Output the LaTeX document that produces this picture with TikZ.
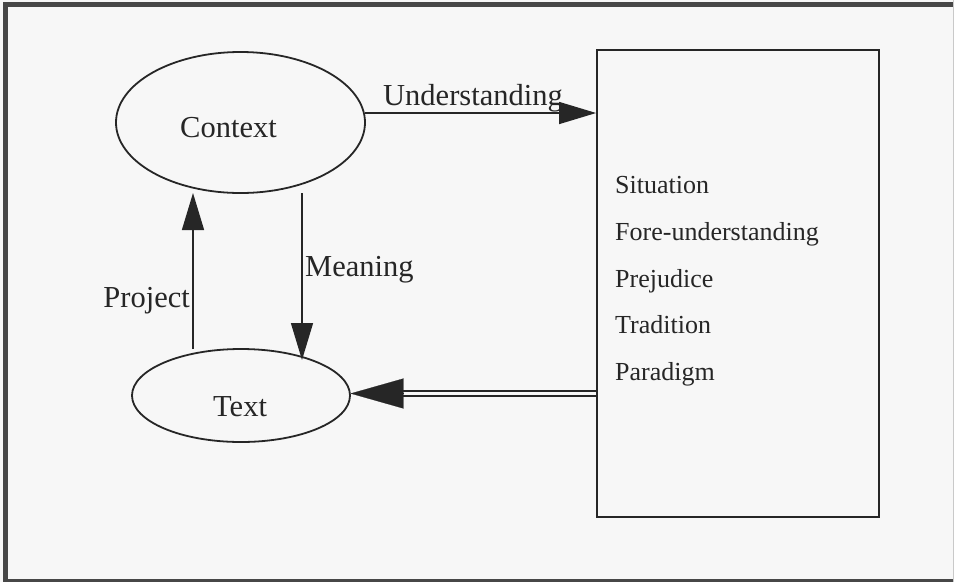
\documentclass[tikz,border=0pt]{standalone}
\usepackage{fontspec}
\setmainfont{Liberation Serif}
\usetikzlibrary{arrows.meta,shapes.geometric}
\definecolor{ink}{HTML}{262626}
\definecolor{bg}{HTML}{F7F7F7}
\begin{document}
\begin{tikzpicture}[x=1pt,y=-1pt,
  lbl/.style={font=\fontsize{30.5}{36}\selectfont, text=ink, inner sep=0, anchor=base west},
  item/.style={font=\fontsize{26}{30}\selectfont, text=ink, inner sep=0, anchor=base west},
  oval/.style={ellipse, draw=ink, line width=1.8pt, inner sep=0},
  arr/.style={draw=ink, line width=1.4pt, -{Triangle[length=37pt,width=22pt]}},
  frame/.style={draw=ink!85, line width=5pt}
]
\useasboundingbox (0,0) rectangle (954,582);
\fill[bg] (0,0) rectangle (954,582);
% outer frame
\draw[frame] (954,4.5) -- (5.8,4.5) -- (5.8,582);
\draw[draw=ink!85, line width=3pt] (3,580.5) -- (954,580.5);
\draw[draw=ink!25, line width=1pt] (953.5,0) -- (953.5,582);

% nodes
\node[oval, minimum width=249pt, minimum height=141pt] (ctx) at (240.5,122.5) {};
\node[lbl] (ctxlbl) at (180,137) {Context};
\node[oval, minimum width=218pt, minimum height=93pt] (txt) at (241,395.5) {};
\node[lbl] (txtlbl) at (213,416) {Text};
\node[draw=ink, line width=1.8pt, minimum width=282pt, minimum height=467pt, inner sep=0] (box) at (738,283.5) {};

\node[item] (sit) at (615,193) {Situation};
\node[item] (fore) at (615,240) {Fore-understanding};
\node[item] (prej) at (615,287) {Prejudice};
\node[item] (trad) at (615,333) {Tradition};
\node[item] (para) at (615,380) {Paradigm};

% Understanding
\coordinate (ustart) at (365,113);
\draw[arr] (ustart) -- (box.west |- ustart);
\node[lbl] (ulbl) at (383,105) {Understanding};

% Meaning
\coordinate (mstart) at (302,193);
\coordinate (mend) at (302,360);
\draw[arr] (mstart) -- (mend);
\node[lbl] (mlbl) at (305,276) {Meaning};

% Project
\coordinate (pstart) at (193,349);
\coordinate (pend) at (193,193);
\draw[arr] (pstart) -- (pend);
\node[lbl, anchor=base east] (plbl) at (190,307) {Project};

% double arrow from box to Text
\coordinate (dstart) at (597,393.5);
\coordinate (dbase) at (401,393.5);
\coordinate (dtip) at (350.5,393.5);
\draw[draw=ink, line width=1.5pt, double=bg, double distance=3.5pt] (box.west |- dstart) -- (dbase);
\draw[draw=ink, line width=0.2pt, -{Triangle[length=53pt,width=30pt]}] ([xshift=2pt]dbase) -- (dtip);
\end{tikzpicture}
\end{document}
